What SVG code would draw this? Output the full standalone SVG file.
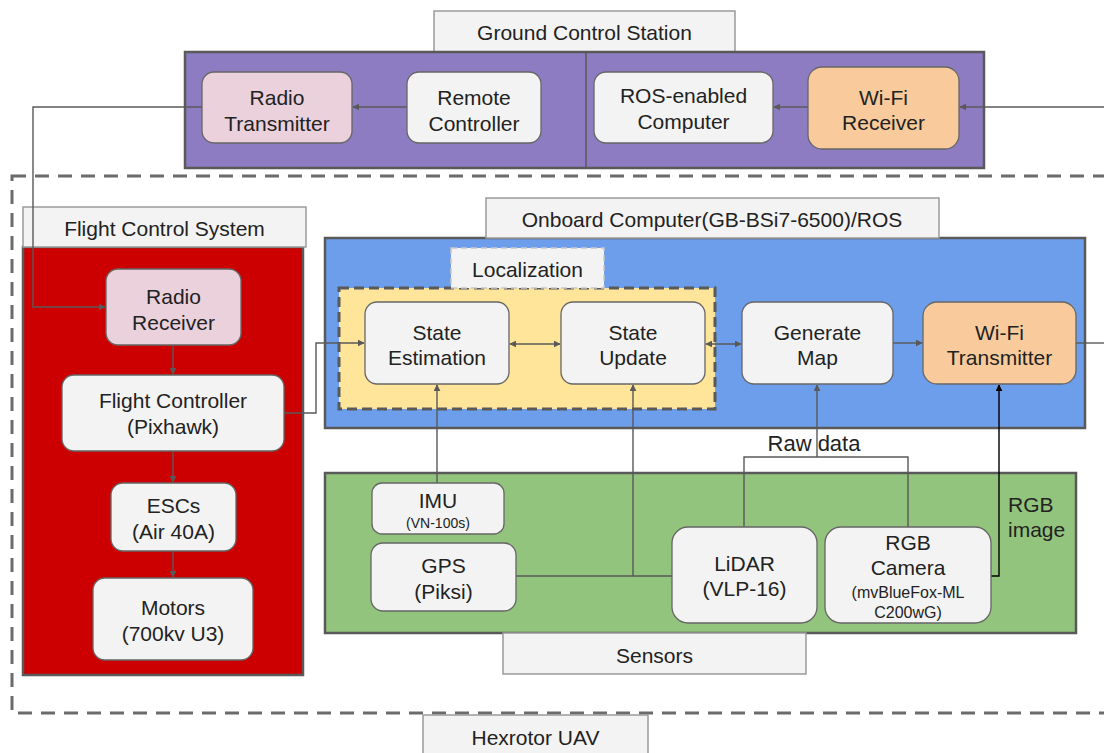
<svg xmlns="http://www.w3.org/2000/svg" width="1104" height="753" viewBox="0 0 1104 753">
<style>
text{font-family:"Liberation Sans",Arial,sans-serif;fill:#222;text-anchor:middle}
.t{font-size:21px}
.s{font-size:15px}
.lbl{fill:#f3f3f3;stroke:#9a9a9a;stroke-width:1.5}
.cont{stroke:#595959;stroke-width:2.5}
.node{stroke:#666;stroke-width:1.3}
.gray{fill:#f3f3f3}
.pink{fill:#ead1dc}
.orange{fill:#f9cb9c}
.c{fill:none;stroke:#595959;stroke-width:1.4}
</style>
<defs>
<marker id="a" viewBox="0 0 10 10" refX="9" refY="5" markerWidth="7" markerHeight="7" orient="auto-start-reverse" markerUnits="userSpaceOnUse"><path d="M0,0L10,5L0,10z" fill="#595959"/></marker>
<marker id="ab" viewBox="0 0 10 10" refX="9" refY="5" markerWidth="7" markerHeight="7" orient="auto-start-reverse" markerUnits="userSpaceOnUse"><path d="M0,0L10,5L0,10z" fill="#000"/></marker>
</defs>
<rect width="1104" height="753" fill="#fff"/>

<!-- outer dashed container -->
<g id="hexrotor">
<rect x="12" y="176" width="1110" height="537" fill="none" stroke="#6b6b6b" stroke-width="3" stroke-dasharray="14,9"/>
<rect class="lbl" x="423" y="715" width="225" height="45"/>
<text class="t" x="535.5" y="745">Hexrotor UAV</text>
</g>

<!-- Ground Control Station -->
<g id="gcs">
<rect class="lbl" x="434" y="11" width="301" height="41"/>
<text class="t" x="584.5" y="40">Ground Control Station</text>
<rect class="cont" x="185" y="52" width="799" height="116" fill="#8e7cc3"/>
<line x1="586" y1="52" x2="586" y2="168" stroke="#595959" stroke-width="1.5"/>
</g>

<!-- Flight Control System -->
<g id="fcs">
<rect class="cont" x="23" y="247" width="280" height="428" fill="#cc0000"/>
<rect class="lbl" x="23" y="207" width="283" height="40"/>
<text class="t" x="164.5" y="236">Flight Control System</text>
</g>

<!-- Onboard Computer -->
<g id="onboard">
<rect class="cont" x="325" y="238" width="760" height="190" fill="#6d9eeb"/>
<rect class="lbl" x="486" y="198" width="453" height="40"/>
<text class="t" x="712" y="227">Onboard Computer(GB-BSi7-6500)/ROS</text>
</g>

<!-- Localization -->
<g id="localization">
<rect x="339" y="288" width="376" height="121" fill="#ffe599" stroke="#595959" stroke-width="3" stroke-dasharray="10,5"/>
<rect x="451" y="248" width="153" height="40" fill="#f3f3f3" stroke="#c8c8c8" stroke-width="1.5" stroke-dasharray="6,4"/>
<text class="t" x="527.5" y="277">Localization</text>
</g>

<!-- Sensors -->
<g id="sensors">
<rect class="cont" x="325" y="473" width="751" height="160" fill="#93c47d"/>
<rect class="lbl" x="503" y="633" width="303" height="41"/>
<text class="t" x="654.5" y="663">Sensors</text>
</g>

<!-- connectors -->
<g id="connectors">
<path class="c" d="M202,107H33V307H105" marker-end="url(#a)"/>
<path class="c" d="M407,107H353" marker-end="url(#a)"/>
<path class="c" d="M808,107H774" marker-end="url(#a)"/>
<path class="c" d="M1104,107H960" marker-end="url(#a)"/>
<path class="c" d="M173,345V374" marker-end="url(#a)"/>
<path class="c" d="M173,451V482" marker-end="url(#a)"/>
<path class="c" d="M173,551V577" marker-end="url(#a)"/>
<path class="c" d="M284,413H316V343H364" marker-end="url(#a)"/>
<path class="c" d="M510,344H560" marker-start="url(#a)" marker-end="url(#a)"/>
<path class="c" d="M706,344H741" marker-start="url(#a)" marker-end="url(#a)"/>
<path class="c" d="M893,343H922" marker-end="url(#a)"/>
<path class="c" d="M1076,343H1104"/>
<path class="c" d="M437,483V385" marker-end="url(#a)"/>
<path class="c" d="M516,576H633V385" marker-end="url(#a)"/>
<path class="c" d="M672,576H633"/>
<path class="c" d="M744,527V457H908V527"/>
<path class="c" d="M817,457V385" marker-end="url(#a)"/>
<path d="M991,576H999V385" fill="none" stroke="#000" stroke-width="1.4" marker-end="url(#ab)"/>
<text x="814" y="451" style="font-size:22px">Raw data</text>
<text class="t" x="1008" y="512" style="text-anchor:start">RGB</text>
<text class="t" x="1008" y="537" style="text-anchor:start">image</text>
</g>

<g id="radio-transmitter">
<rect class="node pink" x="202" y="72" width="150" height="71" rx="12"/>
<text class="t" x="277" y="104.5">Radio</text>
<text class="t" x="277" y="130.5">Transmitter</text>
</g>
<g id="remote-controller">
<rect class="node gray" x="407" y="72" width="134" height="71" rx="12"/>
<text class="t" x="474" y="104.5">Remote</text>
<text class="t" x="474" y="130.5">Controller</text>
</g>
<g id="ros-computer">
<rect class="node gray" x="594" y="72" width="179" height="71" rx="12"/>
<text class="t" x="683.5" y="102.5">ROS-enabled</text>
<text class="t" x="683.5" y="128.5">Computer</text>
</g>
<g id="wifi-receiver">
<rect class="node orange" x="808" y="67" width="151" height="82" rx="14"/>
<text class="t" x="883.5" y="104.5">Wi-Fi</text>
<text class="t" x="883.5" y="130">Receiver</text>
</g>

<g id="radio-receiver">
<rect class="node pink" x="106" y="269" width="135" height="76" rx="12"/>
<text class="t" x="173.5" y="303.5">Radio</text>
<text class="t" x="173.5" y="329.5">Receiver</text>
</g>
<g id="flight-controller">
<rect class="node gray" x="62" y="375" width="222" height="76" rx="12"/>
<text class="t" x="173" y="407.5">Flight Controller</text>
<text class="t" x="173" y="434">(Pixhawk)</text>
</g>
<g id="escs">
<rect class="node gray" x="111" y="483" width="125" height="68" rx="12"/>
<text class="t" x="173.5" y="512.5">ESCs</text>
<text class="t" x="173.5" y="538.5">(Air 40A)</text>
</g>
<g id="motors">
<rect class="node gray" x="93" y="578" width="160" height="82" rx="12"/>
<text class="t" x="173" y="614.5">Motors</text>
<text class="t" x="173" y="640.5">(700kv U3)</text>
</g>

<g id="state-estimation">
<rect class="node gray" x="365" y="302" width="144" height="82" rx="12"/>
<text class="t" x="437" y="339.5">State</text>
<text class="t" x="437" y="364.5">Estimation</text>
</g>
<g id="state-update">
<rect class="node gray" x="561" y="302" width="144" height="82" rx="12"/>
<text class="t" x="633" y="339.5">State</text>
<text class="t" x="633" y="364.5">Update</text>
</g>
<g id="generate-map">
<rect class="node gray" x="742" y="302" width="151" height="82" rx="12"/>
<text class="t" x="817.5" y="339.5">Generate</text>
<text class="t" x="817.5" y="364.5">Map</text>
</g>
<g id="wifi-transmitter">
<rect class="node orange" x="923" y="302" width="153" height="82" rx="14"/>
<text class="t" x="999.5" y="339.5">Wi-Fi</text>
<text class="t" x="999.5" y="364.5">Transmitter</text>
</g>

<g id="imu">
<rect class="node gray" x="372" y="483" width="132" height="51" rx="10"/>
<text class="t" x="438" y="507.5">IMU</text>
<text x="438" y="528" style="font-size:14px">(VN-100s)</text>
</g>
<g id="gps">
<rect class="node gray" x="371" y="543" width="145" height="68" rx="12"/>
<text class="t" x="443.5" y="572.5">GPS</text>
<text class="t" x="443.5" y="599">(Piksi)</text>
</g>
<g id="lidar">
<rect class="node gray" x="672" y="527" width="145" height="96" rx="16"/>
<text class="t" x="744.5" y="570.5">LiDAR</text>
<text class="t" x="744.5" y="596">(VLP-16)</text>
</g>
<g id="rgb-camera">
<rect class="node gray" x="825" y="527" width="166" height="96" rx="16"/>
<text class="t" x="908" y="549.5">RGB</text>
<text class="t" x="908" y="574.5">Camera</text>
<text x="908" y="597.5" style="font-size:16px">(mvBlueFox-ML</text>
<text x="908" y="617.5" style="font-size:16px">C200wG)</text>
</g>
</svg>
